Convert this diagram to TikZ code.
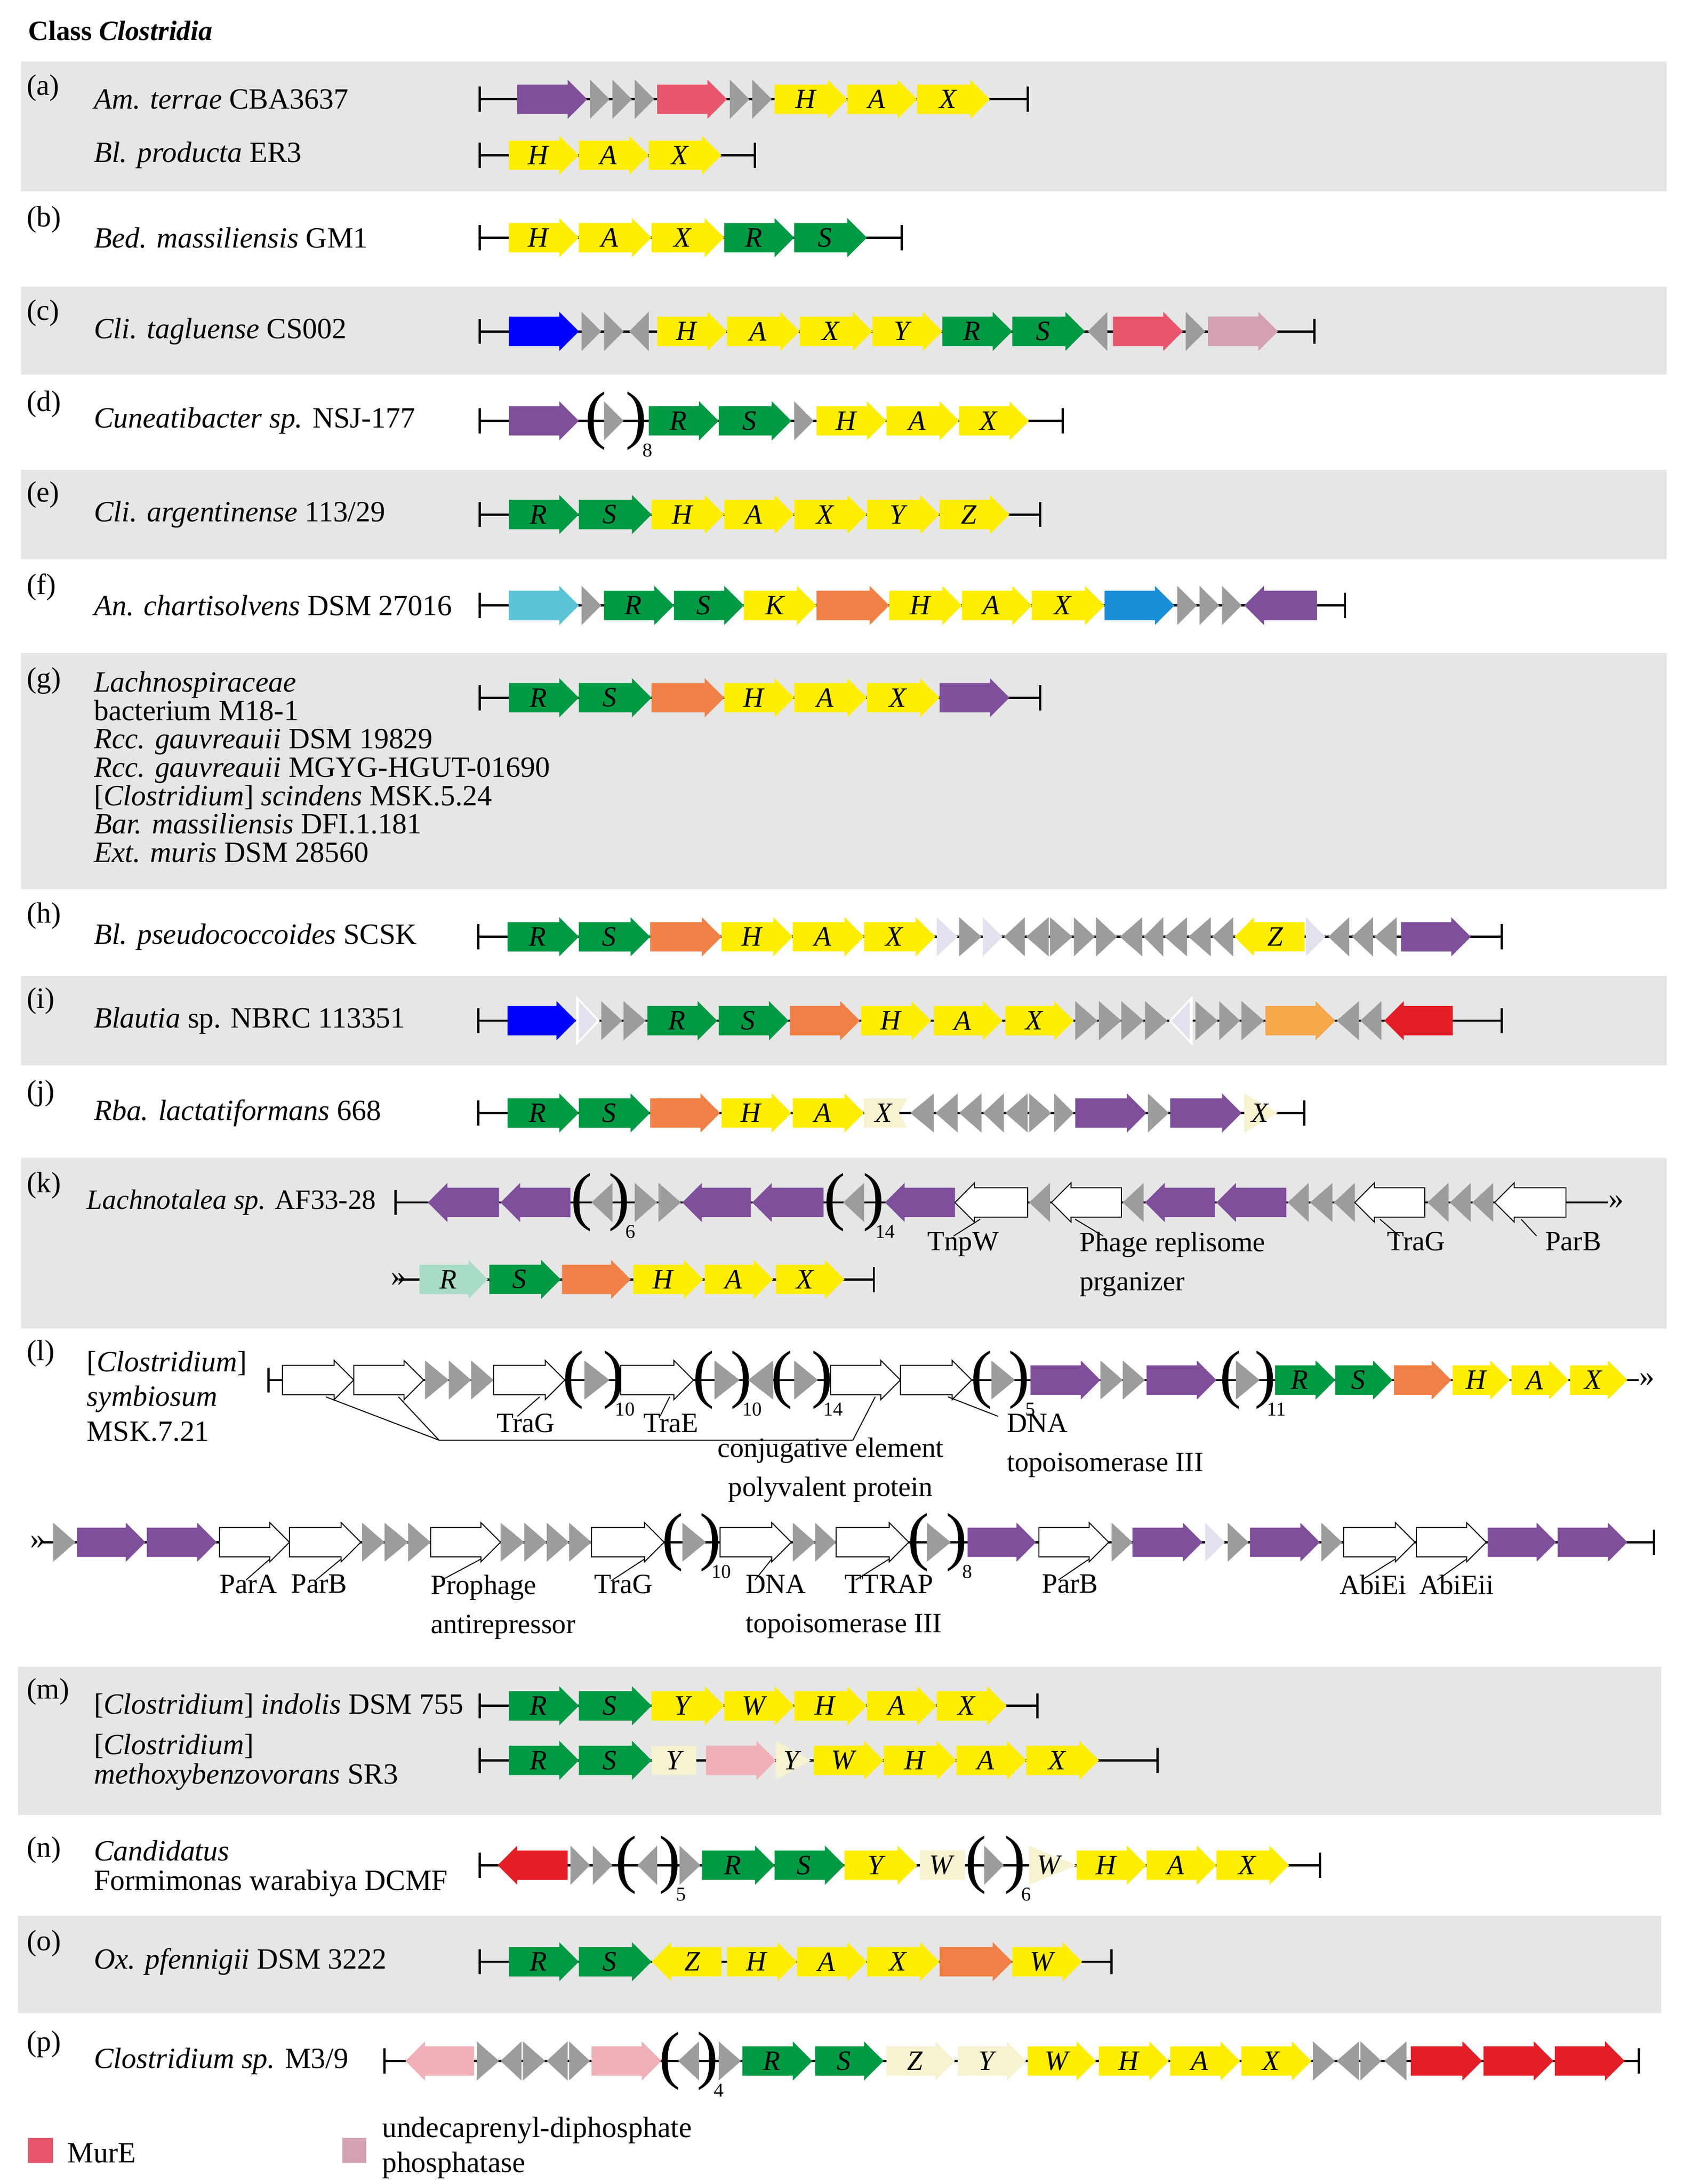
\documentclass[tikz,border=0pt]{standalone}
\usepackage{fontspec}
\setmainfont{Liberation Serif}
\definecolor{grn}{HTML}{009A44}
\definecolor{yel}{HTML}{FFEE00}
\definecolor{pur}{HTML}{7F4F9B}
\definecolor{gry}{HTML}{9C9C9C}
\definecolor{pnk}{HTML}{E8566B}
\definecolor{lpnk}{HTML}{D4A0B4}
\definecolor{blu}{HTML}{0000FF}
\definecolor{cya}{HTML}{5BC4D6}
\definecolor{blu2}{HTML}{1A8FD8}
\definecolor{org}{HTML}{F08045}
\definecolor{lorg}{HTML}{F6A84A}
\definecolor{red}{HTML}{E31E26}
\definecolor{band}{HTML}{E6E6E6}
\definecolor{fy}{HTML}{F7F2CF}
\definecolor{fp}{HTML}{F0B0B8}
\definecolor{fg}{HTML}{A8DCC4}
\definecolor{lav}{HTML}{E2E2EF}
\tikzset{gl/.style={font=\fontsize{20}{20}\selectfont\itshape,inner sep=0pt},
 lab/.style={font=\fontsize{21}{22}\selectfont,inner sep=0pt,anchor=west,align=left},
 ann/.style={font=\fontsize{20}{28}\selectfont,inner sep=0pt,anchor=north west,align=left},
 par/.style={font=\fontsize{46}{46}\selectfont,inner sep=0pt},
 sb/.style={font=\fontsize{14}{14}\selectfont,inner sep=0pt},
 ld/.style={line width=0.7pt}}
\newcommand\GR[5]{\fill[#4] (#1,#3-10.5) -- (#2-14,#3-10.5) -- (#2-14,#3-14) -- (#2,#3) -- (#2-14,#3+14) -- (#2-14,#3+10.5) -- (#1,#3+10.5) -- cycle; \node[gl] at ({(#1+#2)/2-4},#3) {#5};}
\newcommand\GL[5]{\fill[#4] (#2,#3-10.5) -- (#1+14,#3-10.5) -- (#1+14,#3-14) -- (#1,#3) -- (#1+14,#3+14) -- (#1+14,#3+10.5) -- (#2,#3+10.5) -- cycle; \node[gl] at ({(#1+#2)/2+4},#3) {#5};}
\newcommand\WR[3]{\filldraw[fill=white,draw=black,line width=0.7pt] (#1,#3-10.5) -- (#2-14,#3-10.5) -- (#2-14,#3-14) -- (#2,#3) -- (#2-14,#3+14) -- (#2-14,#3+10.5) -- (#1,#3+10.5) -- cycle;}
\newcommand\WL[3]{\filldraw[fill=white,draw=black,line width=0.7pt] (#2,#3-10.5) -- (#1+14,#3-10.5) -- (#1+14,#3-14) -- (#1,#3) -- (#1+14,#3+14) -- (#1+14,#3+10.5) -- (#2,#3+10.5) -- cycle;}
\newcommand\TR[4]{\fill[#4] (#1,#3-14) -- (#2,#3) -- (#1,#3+14) -- cycle;}
\newcommand\TL[4]{\fill[#4] (#2,#3-14) -- (#1,#3) -- (#2,#3+14) -- cycle;}
\newcommand\LP[2]{\node[par] at (#1,#2) {(};}
\newcommand\RP[3]{\node[par] at (#1,#2) {)}; \node[sb] at (#1+8,#2+21) {#3};}
\newcommand\BL[3]{\draw[line width=1.6pt] (#1,#3) -- (#2,#3);}
\newcommand\TK[2]{\draw[line width=1.6pt] (#1,#2-9) -- (#1,#2+9);}
\newcommand\BB[3]{\BL{#1}{#2}{#3}\TK{#1}{#3}\TK{#2}{#3}}
\newcommand\DA[2]{\node[font=\fontsize{22}{22}\selectfont,inner sep=0pt] at (#1,#2) {»};}
\begin{document}
\begin{tikzpicture}[x=1pt,y=-1pt]
\useasboundingbox (0,0) rectangle (1210,1562);
% bands
\foreach \a/\b in {44/137,205/268,336/400,467/636,698/762,828/950}{\fill[band] (15,\a) rectangle (1192,\b);}
\foreach \a/\b in {1192/1298,1370/1440}{\fill[band] (13,\a) rectangle (1188,\b);}
\node[font=\fontsize{20}{20}\selectfont\bfseries,anchor=west,inner sep=0] at (20,22) {Class \textit{Clostridia}};
% row letters
\foreach \l/\y in {a/63,b/157,c/224,d/289,e/354,f/420,g/487,h/655,i/716,j/782,k/848,l/968,m/1210,n/1323,o/1390,p/1462}{\node[lab] at (19,\y) {(\l)};}
% species
\node[lab] at (67,71) {\textit{Am. terrae} CBA3637};
\node[lab] at (67,111) {\textit{Bl. producta} ER3};
\node[lab] at (67,170) {\textit{Bed. massiliensis} GM1};
\node[lab] at (67,237) {\textit{Cli. tagluense} CS002};
\node[lab] at (67,301) {\textit{Cuneatibacter sp.} NSJ-177};
\node[lab] at (67,368) {\textit{Cli. argentinense} 113/29};
\node[lab] at (67,433) {\textit{An. chartisolvens} DSM 27016};
\node[lab,anchor=north west,font=\fontsize{21}{20.3}\selectfont] at (67,480) {\textit{Lachnospiraceae}\\bacterium M18-1\\\textit{Rcc. gauvreauii} DSM 19829\\\textit{Rcc. gauvreauii} MGYG-HGUT-01690\\{}[\textit{Clostridium}] \textit{scindens} MSK.5.24\\\textit{Bar. massiliensis} DFI.1.181\\\textit{Ext. muris} DSM 28560};
\node[lab] at (67,670) {\textit{Bl. pseudococcoides} SCSK};
\node[lab] at (67,730) {\textit{Blautia} sp. NBRC 113351};
\node[lab] at (67,796) {\textit{Rba. lactatiformans} 668};
\node[lab,font=\fontsize{20}{22}\selectfont] at (62,860) {\textit{Lachnotalea sp.} AF33-28};
\node[lab,anchor=north west,font=\fontsize{21}{25}\selectfont] at (62,966) {{}[\textit{Clostridium}]\\\textit{symbiosum}\\MSK.7.21};
\node[lab] at (67,1220) {{}[\textit{Clostridium}] \textit{indolis} DSM 755};
\node[lab,anchor=north west,font=\fontsize{21}{21}\selectfont] at (67,1240) {{}[\textit{Clostridium}]\\\textit{methoxybenzovorans} SR3};
\node[lab,anchor=north west,font=\fontsize{21}{21}\selectfont] at (67,1316) {\textit{Candidatus}\\Formimonas warabiya DCMF};
\node[lab] at (67,1403) {\textit{Ox. pfennigii} DSM 3222};
\node[lab] at (67,1474) {\textit{Clostridium sp.} M3/9};
% (a)
\BB{343}{735}{71}
\GR{370}{420}{71}{pur}{}\TR{422}{436}{71}{gry}\TR{438}{452}{71}{gry}\TR{454}{468}{71}{gry}
\GR{470}{520}{71}{pnk}{}\TR{522}{536}{71}{gry}\TR{538}{552}{71}{gry}
\GR{554}{606}{71}{yel}{H}\GR{606}{656}{71}{yel}{A}\GR{656}{708}{71}{yel}{X}
\BB{343}{540}{111}
\GR{364}{414}{111}{yel}{H}\GR{414}{464}{111}{yel}{A}\GR{464}{516}{111}{yel}{X}
% (b)
\BB{343}{645}{170}
\GR{364}{414}{170}{yel}{H}\GR{414}{466}{170}{yel}{A}\GR{466}{518}{170}{yel}{X}\GR{518}{568}{170}{grn}{R}\GR{568}{620}{170}{grn}{S}
% (c)
\BB{343}{940}{237}
\GR{364}{414}{237}{blu}{}\TR{416}{430}{237}{gry}\TR{432}{446}{237}{gry}\TL{450}{464}{237}{gry}
\GR{470}{520}{237}{yel}{H}\GR{520}{572}{237}{yel}{A}\GR{572}{624}{237}{yel}{X}\GR{624}{674}{237}{yel}{Y}
\GR{674}{724}{237}{grn}{R}\GR{724}{776}{237}{grn}{S}\TL{778}{792}{237}{gry}
\GR{796}{846}{237}{pnk}{}\TR{848}{862}{237}{gry}\GR{864}{914}{237}{lpnk}{}
% (d)
\BB{343}{760}{301}
\GR{364}{414}{301}{pur}{}\LP{426}{301}\TR{432}{446}{301}{gry}\RP{455}{301}{8}
\GR{464}{514}{301}{grn}{R}\GR{514}{566}{301}{grn}{S}\TR{568}{582}{301}{gry}
\GR{584}{634}{301}{yel}{H}\GR{634}{686}{301}{yel}{A}\GR{686}{736}{301}{yel}{X}
% (e)
\BB{343}{744}{368}
\GR{364}{414}{368}{grn}{R}\GR{414}{466}{368}{grn}{S}\GR{466}{518}{368}{yel}{H}\GR{518}{568}{368}{yel}{A}
\GR{568}{620}{368}{yel}{X}\GR{620}{672}{368}{yel}{Y}\GR{672}{722}{368}{yel}{Z}
% (f)
\BB{343}{962}{433}
\GR{364}{414}{433}{cya}{}\TR{416}{430}{433}{gry}\GR{432}{482}{433}{grn}{R}\GR{482}{532}{433}{grn}{S}
\GR{532}{584}{433}{yel}{K}\GR{584}{636}{433}{org}{}\GR{636}{688}{433}{yel}{H}\GR{688}{738}{433}{yel}{A}\GR{738}{790}{433}{yel}{X}
\GR{790}{840}{433}{blu2}{}\TR{842}{856}{433}{gry}\TR{858}{872}{433}{gry}\TR{874}{888}{433}{gry}\GL{890}{942}{433}{pur}{}
% (g)
\BB{343}{744}{499}
\GR{364}{414}{499}{grn}{R}\GR{414}{466}{499}{grn}{S}\GR{466}{518}{499}{org}{}\GR{518}{568}{499}{yel}{H}
\GR{568}{620}{499}{yel}{A}\GR{620}{672}{499}{yel}{X}\GR{672}{722}{499}{pur}{}
% (h)
\BB{342}{1074}{670}
\GR{363}{414}{670}{grn}{R}\GR{414}{465}{670}{grn}{S}\GR{465}{516}{670}{org}{}\GR{516}{567}{670}{yel}{H}
\GR{567}{618}{670}{yel}{A}\GR{618}{669}{670}{yel}{X}
\TR{670}{685}{670}{lav}\TR{686}{702}{670}{gry}\TR{703}{717}{670}{lav}\TL{718}{733}{670}{gry}\TL{734}{750}{670}{gry}
\TR{751}{767}{670}{gry}\TR{768}{783}{670}{gry}\TR{784}{799}{670}{gry}
\TL{801}{817}{670}{gry}\TL{818}{832}{670}{gry}\TL{833}{849}{670}{gry}\TL{850}{866}{670}{gry}\TL{867}{882}{670}{gry}
\GL{883}{933}{670}{yel}{Z}\TR{934}{948}{670}{lav}\TL{950}{965}{670}{gry}\TL{967}{982}{670}{gry}\TL{983}{999}{670}{gry}
\GR{1002}{1052}{670}{pur}{}
% (i)
\BB{342}{1074}{730}
\GR{363}{412}{730}{blu}{}\fill[white] (412,712) -- (429,730) -- (412,748) -- cycle;\fill[lav] (414,716) -- (427,730) -- (414,744) -- cycle;
\TR{430}{445}{730}{gry}\TR{446}{462}{730}{gry}
\GR{463}{513}{730}{grn}{R}\GR{514}{564}{730}{grn}{S}\GR{565}{615}{730}{org}{}\GR{616}{666}{730}{yel}{H}
\GR{668}{717}{730}{yel}{A}\GR{719}{768}{730}{yel}{X}
\TR{769}{785}{730}{gry}\TR{786}{802}{730}{gry}\TR{802}{818}{730}{gry}\TR{819}{835}{730}{gry}
\fill[white] (853,712) -- (836,730) -- (853,748) -- cycle;\fill[lav] (851,716) -- (838,730) -- (851,744) -- cycle;
\TR{855}{871}{730}{gry}\TR{872}{887}{730}{gry}\TR{888}{904}{730}{gry}
\GR{905}{955}{730}{lorg}{}\TL{956}{972}{730}{gry}\TL{973}{988}{730}{gry}\GL{990}{1039}{730}{red}{}
% (j)
\BB{342}{933}{796}
\GR{363}{414}{796}{grn}{R}\GR{414}{465}{796}{grn}{S}\GR{465}{515}{796}{org}{}\GR{516}{566}{796}{yel}{H}\GR{567}{618}{796}{yel}{A}
\fill[fy] (618,785.5) -- (649,785.5) -- (643,796) -- (649,806.5) -- (618,806.5) -- cycle;\node[gl] at (632,796) {X};
\TL{651}{668}{796}{gry}\TL{669}{685}{796}{gry}\TL{686}{702}{796}{gry}\TL{703}{718}{796}{gry}\TL{719}{735}{796}{gry}
\TR{736}{752}{796}{gry}\TR{754}{768}{796}{gry}
\GR{769}{820}{796}{pur}{}\TR{821}{836}{796}{gry}\GR{837}{888}{796}{pur}{}
\TR{890}{914}{796}{fy}\node[gl] at (901,796) {X};
% (k) line 1
\BL{283}{1150}{860}\TK{283}{860}\DA{1156}{860}
\GL{306}{357}{860}{pur}{}\GL{358}{408}{860}{pur}{}\LP{416}{860}\TL{423}{438}{860}{gry}\RP{443}{860}{6}
\TR{454}{470}{860}{gry}\TR{471}{487}{860}{gry}\GL{488}{537}{860}{pur}{}\GL{538}{589}{860}{pur}{}
\LP{597}{860}\TL{603}{618}{860}{gry}\RP{625}{860}{14}
\GL{633}{683}{860}{pur}{}\WL{683}{735}{860}\TL{736}{751}{860}{gry}\WL{752}{802}{860}\TL{803}{818}{860}{gry}
\GL{819}{869}{860}{pur}{}\GL{870}{920}{860}{pur}{}\TL{921}{936}{860}{gry}\TL{937}{953}{860}{gry}\TL{954}{969}{860}{gry}
\WL{969}{1019}{860}\TL{1021}{1036}{860}{gry}\TL{1037}{1052}{860}{gry}\TL{1053}{1068}{860}{gry}\WL{1069}{1120}{860}
\draw[ld] (701,872) -- (682,884); \node[ann] at (663,881) {TnpW};
\draw[ld] (769,872) -- (789,884); \node[ann] at (772,881) {Phage replisome\\prganizer};
\draw[ld] (987,872) -- (1001,884); \node[ann] at (992,881) {TraG};
\draw[ld] (1088,872) -- (1099,884); \node[ann] at (1105,881) {ParB};
% (k) line 2
\BL{285}{625}{915}\TK{625}{915}\DA{285}{915}
\GR{300}{349}{915}{fg}{R}\GR{350}{401}{915}{grn}{S}\GR{402}{451}{915}{org}{}\GR{453}{503}{915}{yel}{H}
\GR{504}{553}{915}{yel}{A}\GR{555}{604}{915}{yel}{X}
% (l) line 1
\BL{192}{1172}{987}\TK{192}{987}\DA{1178}{987}
\WR{202}{253}{987}\WR{253}{303}{987}\TR{304}{321}{987}{gry}\TR{321}{337}{987}{gry}\TR{337}{353}{987}{gry}
\WR{353}{404}{987}\LP{410}{987}\TR{418}{436}{987}{gry}\RP{439}{987}{10}
\WR{444}{496}{987}\LP{503}{987}\TR{511}{529}{987}{gry}\RP{530}{987}{10}
\TL{535}{553}{987}{gry}\LP{559}{987}\TR{568}{585}{987}{gry}\RP{588}{987}{14}
\WR{594}{644}{987}\WR{644}{695}{987}\LP{702}{987}\TR{709}{726}{987}{gry}\RP{729}{987}{5}
\GR{737}{787}{987}{pur}{}\TR{787}{803}{987}{gry}\TR{803}{819}{987}{gry}\GR{820}{870}{987}{pur}{}
\LP{880}{987}\TR{884}{901}{987}{gry}\RP{905}{987}{11}
\GR{912}{955}{987}{grn}{R}\GR{955}{996}{987}{grn}{S}\GR{997}{1038}{987}{org}{}\GR{1039}{1080}{987}{yel}{H}
\GR{1081}{1122}{987}{yel}{A}\GR{1123}{1164}{987}{yel}{X}
\draw[ld] (233,999) -- (314,1030) -- (610,1030) -- (626,999); \draw[ld] (285,999) -- (314,1030);
\node[ann,align=center,anchor=north] at (594,1028) {conjugative element\\polyvalent protein};
\draw[ld] (386,999) -- (370,1013); \node[ann] at (355,1011) {TraG};
\draw[ld] (479,999) -- (472,1013); \node[ann] at (460,1011) {TraE};
\draw[ld] (678,999) -- (714,1013); \node[ann] at (720,1011) {DNA\\topoisomerase III};
% (l) line 2
\BL{30}{1183}{1103}\TK{1183}{1103}\DA{27}{1103}
\TR{38}{54}{1103}{gry}\GR{55}{104}{1103}{pur}{}\GR{105}{155}{1103}{pur}{}\WR{157}{207}{1103}\WR{207}{258}{1103}
\TR{259}{275}{1103}{gry}\TR{275}{292}{1103}{gry}\TR{292}{308}{1103}{gry}\WR{308}{358}{1103}
\TR{358}{375}{1103}{gry}\TR{375}{391}{1103}{gry}\TR{391}{407}{1103}{gry}\TR{407}{423}{1103}{gry}\WR{423}{475}{1103}
\LP{481}{1103}\TR{488}{505}{1103}{gry}\RP{508}{1103}{10}
\WR{515}{566}{1103}\TR{567}{583}{1103}{gry}\TR{583}{598}{1103}{gry}\WR{598}{650}{1103}
\LP{657}{1103}\TR{663}{680}{1103}{gry}\RP{684}{1103}{8}
\GR{692}{741}{1103}{pur}{}\WR{743}{793}{1103}\TR{795}{810}{1103}{gry}\GR{810}{860}{1103}{pur}{}
\TR{862}{876}{1103}{lav}\TR{878}{893}{1103}{gry}\GR{894}{944}{1103}{pur}{}\TR{945}{960}{1103}{gry}
\WR{961}{1012}{1103}\WR{1013}{1063}{1103}\GR{1064}{1113}{1103}{pur}{}\GR{1114}{1164}{1103}{pur}{}
\foreach \xg/\xl in {193/176,244/226,344/316,461/438,552/540,636/612,779/757,998/974,1049/1028}{\draw[ld] (\xg,1115) -- (\xl,1130);}
\node[ann] at (157,1126) {ParA}; \node[ann] at (208,1126) {ParB};
\node[ann] at (308,1126) {Prophage\\antirepressor}; \node[ann] at (425,1126) {TraG};
\node[ann] at (533,1126) {DNA\\topoisomerase III}; \node[ann] at (604,1126) {TTRAP};
\node[ann] at (745,1126) {ParB}; \node[ann] at (958,1126) {AbiEi}; \node[ann] at (1015,1126) {AbiEii};
% (m)
\BB{343}{742}{1220}
\GR{364}{414}{1220}{grn}{R}\GR{414}{466}{1220}{grn}{S}\GR{466}{518}{1220}{yel}{Y}\GR{518}{568}{1220}{yel}{W}
\GR{568}{620}{1220}{yel}{H}\GR{620}{670}{1220}{yel}{A}\GR{670}{720}{1220}{yel}{X}
\BB{343}{828}{1259}
\GR{364}{414}{1259}{grn}{R}\GR{414}{466}{1259}{grn}{S}
\fill[fy] (466,1248.5) rectangle (498,1269.5);\node[gl] at (482,1259) {Y};
\GR{505}{555}{1259}{fp}{}\TR{555}{580}{1259}{fy}\node[gl] at (566,1259) {Y};
\GR{582}{632}{1259}{yel}{W}\GR{632}{684}{1259}{yel}{H}\GR{684}{734}{1259}{yel}{A}\GR{734}{786}{1259}{yel}{X}
% (n)
\BB{343}{944}{1334}
\GL{356}{406}{1334}{red}{}\TR{408}{422}{1334}{gry}\TR{424}{438}{1334}{gry}\LP{448}{1334}\TL{456}{470}{1334}{gry}\RP{479}{1334}{5}
\TR{486}{501}{1334}{gry}\GR{502}{554}{1334}{grn}{R}\GR{554}{604}{1334}{grn}{S}\GR{604}{656}{1334}{yel}{Y}
\fill[fy] (658,1323.5) rectangle (690,1344.5);\node[gl] at (673,1334) {W};
\LP{698}{1334}\TR{704}{718}{1334}{gry}\RP{726}{1334}{6}
\TR{736}{770}{1334}{fy}\node[gl] at (750,1334) {W};
\GR{770}{820}{1334}{yel}{H}\GR{820}{870}{1334}{yel}{A}\GR{870}{922}{1334}{yel}{X}
% (o)
\BB{343}{795}{1403}
\GR{364}{414}{1403}{grn}{R}\GR{414}{466}{1403}{grn}{S}\GL{466}{516}{1403}{yel}{Z}\GR{520}{570}{1403}{yel}{H}
\GR{570}{620}{1403}{yel}{A}\GR{620}{672}{1403}{yel}{X}\GR{672}{724}{1403}{org}{}\GR{724}{774}{1403}{yel}{W}
% (p)
\BB{275}{1172}{1474}
\GL{290}{339}{1474}{fp}{}\TR{341}{357}{1474}{gry}\TL{358}{373}{1474}{gry}\TR{374}{390}{1474}{gry}\TL{391}{406}{1474}{gry}\TR{407}{422}{1474}{gry}
\GR{423}{473}{1474}{fp}{}\LP{479}{1474}\TL{485}{500}{1474}{gry}\RP{506}{1474}{4}\TR{514}{530}{1474}{gry}
\GR{531}{581}{1474}{grn}{R}\GR{583}{632}{1474}{grn}{S}\GR{634}{683}{1474}{fy}{Z}\GR{685}{734}{1474}{fy}{Y}
\GR{735}{784}{1474}{yel}{W}\GR{786}{836}{1474}{yel}{H}\GR{837}{887}{1474}{yel}{A}\GR{888}{938}{1474}{yel}{X}
\TR{939}{955}{1474}{gry}\TL{956}{972}{1474}{gry}\TR{973}{988}{1474}{gry}\TL{990}{1006}{1474}{gry}
\GR{1009}{1060}{1474}{red}{}\GR{1061}{1111}{1474}{red}{}\GR{1112}{1162}{1474}{red}{}
% legend
\fill[pnk] (20,1529) rectangle (38,1547);\node[lab] at (48,1540) {MurE};
\fill[lpnk] (245,1529) rectangle (262,1547);\node[lab,font=\fontsize{21}{25}\selectfont] at (273,1536) {undecaprenyl-diphosphate\\phosphatase};
\end{tikzpicture}
\end{document}
